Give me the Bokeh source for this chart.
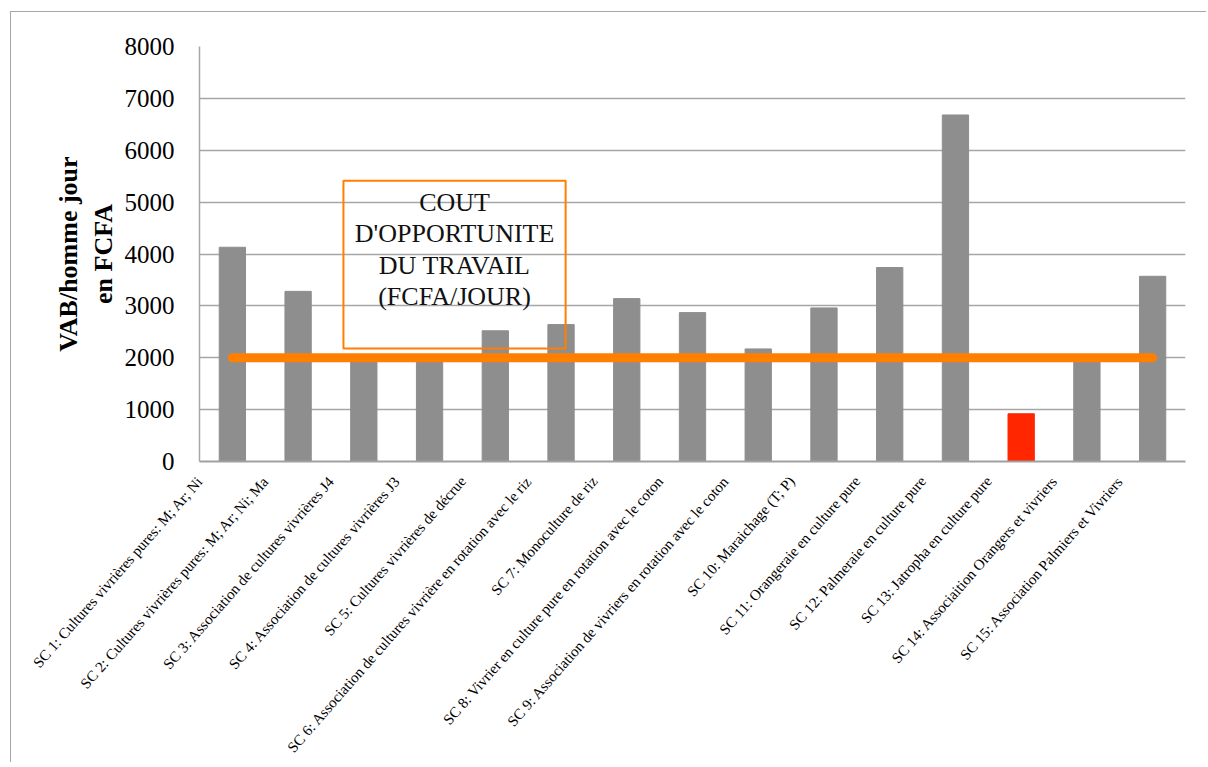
import numpy as np
from bokeh.plotting import figure
from bokeh.models import Range1d, FixedTicker, ColumnDataSource, LinearAxis
from bokeh.core.properties import value
from bokeh.embed import file_html
from bokeh.resources import INLINE

# ---- data ----
categories = [
    "SC 1: Cultures vivrières pures: M; Ar; Ni",
    "SC 2: Cultures vivrières pures: M; Ar; Ni; Ma",
    "SC 3: Association de cultures vivrières J4",
    "SC 4: Association de cultures vivrières J3",
    "SC 5: Cultures vivrières de décrue",
    "SC 6: Association de cultures vivrière en rotation avec le riz",
    "SC 7: Monoculture de riz",
    "SC 8: Vivrier en culture pure en rotation avec le coton",
    "SC 9: Association de vivriers en rotation avec le coton",
    "SC 10: Maraichage (T; P)",
    "SC 11: Orangeraie en culture pure",
    "SC 12: Palmeraie en culture pure",
    "SC 13: Jatropha en culture pure",
    "SC 14: Associaition Orangers et vivriers",
    "SC 15: Association Palmiers et Vivriers",
]
vab_homme_jour = [4130, 3280, 2000, 2000, 2520, 2640, 3140, 2870, 2170, 2960, 3740, 6680, 920, 2000, 3570]
cout_opportunite = [2000] * 15
y_ticks = [0, 1000, 2000, 3000, 4000, 5000, 6000, 7000, 8000]
box_text = "COUT\nD'OPPORTUNITE\nDU TRAVAIL\n(FCFA/JOUR)"

# ---- styling ----
GRAY = "#8e8e8e"
RED = "#ff2600"
ORANGE = "#ff7f00"
SERIF = "Liberation Serif"
LABEL_SHIFT = 0.49   # category labels sit a little left of their bars

n = len(categories)
pos = np.arange(1, n + 1)
colors = [RED if v < c else GRAY for v, c in zip(vab_homme_jour, cout_opportunite)]
src = ColumnDataSource(dict(x=pos, top=vab_homme_jour, color=colors))

p = figure(width=1196, height=751, output_backend="svg", toolbar_location=None,
           x_range=Range1d(0.5, n + 0.5), y_range=Range1d(0, 8000),
           x_axis_location=None,
           min_border_left=188, min_border_top=34, min_border_right=22,
           min_border_bottom=296)
p.extra_x_ranges = {"labels": Range1d(0.5 + LABEL_SHIFT, n + 0.5 + LABEL_SHIFT)}
p.styles = {"margin-left": "10px", "margin-top": "11px",
            "border-left": "1px solid #a6a6a6", "border-top": "1px solid #a6a6a6"}
p.outline_line_color = None
p.background_fill_color = "white"
p.border_fill_color = "white"

p.vbar(x="x", top="top", width=0.4, color="color", source=src)
p.line(pos, cout_opportunite, line_color=ORANGE, line_width=9, line_cap="round")

# text box
p.quad(left=2.69, right=6.07, bottom=2177, top=5414, fill_color=None,
       line_color=ORANGE, line_width=2)
p.text(x=[4.38], y=[4085], text=[box_text], text_font=value(SERIF),
       text_font_size="26px", text_align="center", text_baseline="middle",
       text_line_height=1.08, text_color="#111111")

# y axis
p.xgrid.visible = False
p.ygrid.grid_line_color = "#a6a6a6"
p.ygrid.grid_line_width = 1.5
p.ygrid.ticker = FixedTicker(ticks=y_ticks)

p.yaxis.ticker = FixedTicker(ticks=y_ticks)
p.yaxis.axis_line_color = "#a6a6a6"
p.yaxis.axis_line_width = 1.5
p.yaxis.major_tick_line_color = None
p.yaxis.minor_tick_line_color = None
p.yaxis.major_tick_out = 0
p.yaxis.major_label_standoff = 25
p.yaxis.major_label_text_font = SERIF
p.yaxis.major_label_text_font_size = "25px"
p.yaxis.major_label_text_color = "black"
p.yaxis.axis_label = "VAB/homme jour\nen FCFA"
p.yaxis.axis_label_text_font = SERIF
p.yaxis.axis_label_text_font_size = "26px"
p.yaxis.axis_label_text_font_style = "bold"
p.yaxis.axis_label_text_color = "black"
p.yaxis.axis_label_standoff = 4

# x axis (category labels)
xaxis = LinearAxis(x_range_name="labels", ticker=FixedTicker(ticks=[int(i) for i in pos]),
                   major_label_overrides={int(i): c for i, c in zip(pos, categories)})
xaxis.axis_line_color = "#a0a0a0"
xaxis.axis_line_width = 2
xaxis.major_tick_line_color = None
xaxis.minor_tick_line_color = None
xaxis.major_tick_out = 0
xaxis.major_tick_in = 0
xaxis.major_label_orientation = 0.85
xaxis.major_label_standoff = 17
xaxis.major_label_text_font = SERIF
xaxis.major_label_text_font_size = "15px"
xaxis.major_label_text_color = "black"
p.add_layout(xaxis, "below")

open("out.html", "w").write(file_html(p, INLINE))
